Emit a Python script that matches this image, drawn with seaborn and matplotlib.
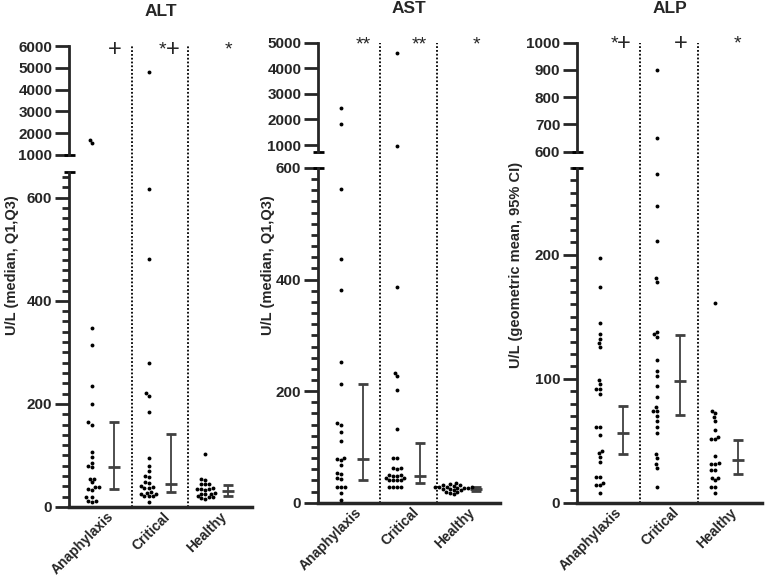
import numpy as np
import pandas as pd
import matplotlib
matplotlib.use("Agg")
import matplotlib.pyplot as plt
import matplotlib.transforms as mtransforms
import seaborn as sns
from matplotlib.ticker import MultipleLocator

# --- data (U/L) ---
GROUPS = ["Anaphylaxis", "Critical", "Healthy"]

ALT_ANA = [1700, 1550, 347, 314, 234, 199, 164, 160, 107, 97, 85, 80, 77,
           55, 55, 48, 38, 38, 35, 33, 19, 19, 12, 12, 10]
ALT_CRIT = [4820, 617, 482, 279, 221, 215, 185, 96, 80, 70, 61, 59, 49, 46,
            41, 38, 36, 36, 30, 28, 25, 25, 21, 21, 21, 10]
ALT_HEALTHY = [103, 54, 52, 45, 45, 44, 36, 35, 34, 35, 33, 27, 26, 25, 26,
               19, 20, 18, 16, 22]
ALT_STATS = [(35, 77, 164), (28.5, 44, 141), (21, 32, 43)]   # Q1, median, Q3
ALT_MARKS = ["+", "*+", "*"]

AST_ANA = [2450, 1820, 563, 437, 382, 253, 213, 142, 139, 126, 110, 79, 81,
           77, 68, 51, 54, 45, 42, 29, 29, 29, 18, 4]
AST_CRIT = [4600, 950, 387, 233, 227, 202, 133, 81, 81, 63, 63, 60, 50, 50,
            47, 45, 47, 45, 40, 40, 40, 40, 29, 29, 29, 29]
AST_HEALTHY = [35, 33, 32, 31, 30, 29, 29, 28, 28, 27, 27, 26, 25, 24, 23,
               22, 20, 19, 17, 16]
AST_STATS = [(41, 79, 213), (36, 48, 107.5), (21.5, 25, 28.7)]
AST_MARKS = ["**", "**", "*"]

ALP_ANA = [197, 174, 145, 136, 132, 129, 126, 99, 96, 92, 92, 88, 61, 61,
           55, 42, 40, 37, 33, 21, 21, 16, 14, 14, 8]
ALP_CRIT = [900, 649, 265, 239, 211, 181, 178, 138, 136, 134, 115, 106, 102,
            94, 85, 77, 74, 74, 70, 66, 61, 56, 39, 36, 31, 28, 13]
ALP_HEALTHY = [161, 74, 72, 69, 66, 59, 53, 51, 51, 38, 32, 31, 31, 26, 26,
               20, 20, 18, 13, 13, 8]
ALP_STATS = [(39.4, 56, 78.4), (71, 97.8, 135.6), (23, 34.5, 50.7)]  # geo mean, 95% CI
ALP_MARKS = ["*+", "+", "*"]

sns.set_style("ticks")
plt.rcParams['font.family'] = ['Liberation Sans', 'DejaVu Sans']
plt.rcParams['font.weight'] = 'bold'

FIG_W, FIG_H = 765, 579
ERR_COLOR = "#404040"


def px_box(left, right, top, bottom):
    return [left / FIG_W, 1 - bottom / FIG_H, (right - left) / FIG_W, (bottom - top) / FIG_H]


panels = [
    dict(name="ALT", values=[ALT_ANA, ALT_CRIT, ALT_HEALTHY], stats=ALT_STATS, marks=ALT_MARKS,
         ylabel="U/L (median, Q1,Q3)", xpx=(69, 252), top_px=(46, 155), low_px=(172, 507),
         top_lim=(1000, 6000), top_ticks=np.arange(1000, 6001, 1000),
         low_lim=(0, 650), low_major=200, low_minor=20, ylabel_x=12, mark_y=50),
    dict(name="AST", values=[AST_ANA, AST_CRIT, AST_HEALTHY], stats=AST_STATS, marks=AST_MARKS,
         ylabel="U/L (median, Q1,Q3)", xpx=(318, 500), top_px=(42.7, 151.7), low_px=(168, 502.7),
         top_lim=(740, 5000), top_ticks=np.arange(1000, 5001, 1000),
         low_lim=(0, 600), low_major=200, low_minor=20, ylabel_x=268, mark_y=45),
    dict(name="ALP", values=[ALP_ANA, ALP_CRIT, ALP_HEALTHY], stats=ALP_STATS, marks=ALP_MARKS,
         ylabel="U/L (geometric mean, 95% CI)", xpx=(577, 762), top_px=(42.7, 151.7), low_px=(168, 502.7),
         top_lim=(600, 1000), top_ticks=np.arange(600, 1001, 100),
         low_lim=(0, 270), low_major=100, low_minor=10, ylabel_x=516, mark_y=44),
]

fig = plt.figure(figsize=(FIG_W / 100, FIG_H / 100), dpi=100)

for p in panels:
    x0, x1 = p['xpx']
    t0, t1 = p['top_px']
    l0, l1 = p['low_px']
    ax_top = fig.add_axes(px_box(x0, x1, t0, t1))
    ax_low = fig.add_axes(px_box(x0, x1, l0, l1))

    df = pd.DataFrame({
        'group': np.repeat(GROUPS, [len(v) for v in p['values']]),
        'value': np.concatenate(p['values']),
    })

    for ax, sub in ((ax_top, df[df['value'] >= p['top_lim'][0]]),
                    (ax_low, df[df['value'] <= p['low_lim'][1]])):
        sns.swarmplot(data=sub, x='group', y='value', order=GROUPS, color='black',
                      size=2.8, ax=ax)
        ax.set_xlabel('')
        ax.set_ylabel('')
        ax.set_xlim(-0.4, 2.82)
        for s in ('top', 'right'):
            ax.spines[s].set_visible(False)
        ax.spines['left'].set_linewidth(2)
        ax.tick_params(axis='y', which='major', length=10, width=2, labelsize=11, pad=2)
        ax.tick_params(axis='y', which='minor', length=5, width=2)

    # upper segment
    ax_top.set_ylim(*p['top_lim'])
    ax_top.set_yticks(p['top_ticks'])
    ax_top.spines['bottom'].set_visible(False)
    ax_top.set_xticks([])
    ax_top.tick_params(axis='x', length=0)

    # lower segment
    ax_low.set_ylim(*p['low_lim'])
    ax_low.yaxis.set_major_locator(MultipleLocator(p['low_major']))
    ax_low.yaxis.set_minor_locator(MultipleLocator(p['low_minor']))
    ax_low.spines['bottom'].set_linewidth(2.5)
    ax_low.set_xticks([i + 0.43 for i in range(len(GROUPS))])
    ax_low.set_xticklabels(GROUPS, rotation=45, ha='right', fontsize=10, fontweight='bold')
    ax_low.tick_params(axis='x', length=0, pad=2)

    # break caps on the y spine
    w = 5.5 / (x1 - x0)
    ax_top.plot([-w, w], [0, 0], transform=ax_top.transAxes, color='black', lw=2,
                clip_on=False, solid_capstyle='butt')
    ax_low.plot([-w, w], [1, 1], transform=ax_low.transAxes, color='black', lw=2,
                clip_on=False, solid_capstyle='butt')

    # dotted separators running through both segments
    ext = (l1 - t0) / (l1 - l0)
    for xs in (0.7, 1.7):
        ax_low.axvline(xs, 0, ext, color='black', lw=1.3, ls=(0, (1, 1.1)), clip_on=False)

    # median / Q1-Q3 (or geometric mean / CI) bars
    for i, (lo, mid, hi) in enumerate(p['stats']):
        ax_low.errorbar(i + 0.4, mid, yerr=[[mid - lo], [hi - mid]], fmt='_', color=ERR_COLOR,
                        ms=8, mew=2, capsize=3.5, capthick=1.3, elinewidth=1.3)

    # significance marks
    trans = mtransforms.blended_transform_factory(ax_top.transData, fig.transFigure)
    my = 1 - p['mark_y'] / FIG_H
    for i, m in enumerate(p['marks']):
        if m == "*+":
            ax_top.text(i + 0.25, my, "*", transform=trans, ha='center', va='center',
                        fontsize=14, fontweight='normal')
            ax_top.text(i + 0.42, my, "+", transform=trans, ha='center', va='center',
                        fontsize=17, fontweight='normal')
        else:
            ax_top.text(i + 0.4, my, m, transform=trans, ha='center', va='center',
                        fontsize=17 if m == "+" else 14, fontweight='normal')

    fig.text((x0 + x1) / 2 / FIG_W, 1 - (t0 - 34) / FIG_H, p['name'], ha='center',
             va='center', fontsize=12.5, fontweight='bold')
    fig.text(p['ylabel_x'] / FIG_W, 1 - 265 / FIG_H, p['ylabel'], rotation=90,
             ha='center', va='center', fontsize=10.5, fontweight='bold')

fig.savefig('out.png', dpi=100)
